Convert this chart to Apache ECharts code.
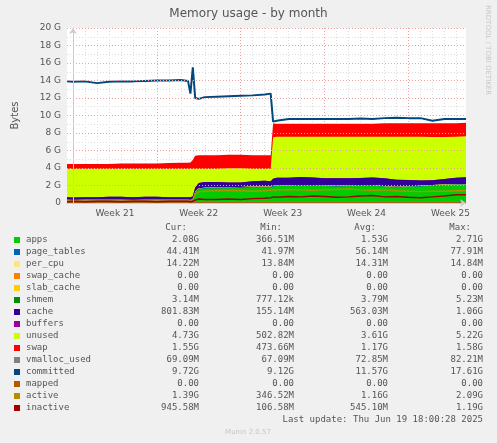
<!DOCTYPE html>
<html>
<head>
<meta charset="utf-8">
<script src="https://cdn.jsdelivr.net/npm/echarts@6/dist/echarts.min.js"></script>
<style>
  html, body { margin: 0; padding: 0; background: #f0f0f0; }
  #chart { width: 497px; height: 443px; }
</style>
</head>
<body>
<div id="chart"></div>
<script>
// time in days, GB values
const times = [-0.5, 0, 1, 2, 3, 4, 5, 6, 7, 8, 9, 9.6, 9.8, 10.0, 10.2, 10.5,
  11, 12, 13, 14, 15, 16, 16.5, 16.7,
  17, 18, 19, 20, 21, 22, 23, 24, 25, 26, 27, 28, 29, 30, 31, 32, 32.8];
const weekLabels = ['Week 21', 'Week 22', 'Week 23', 'Week 24', 'Week 25'];
const weekLabelDays = [3.5, 10.5, 17.5, 24.5, 31.5];
const yTicks = ['0', '2 G', '4 G', '6 G', '8 G', '10 G', '12 G', '14 G', '16 G', '18 G', '20 G'];

const apps = [0.25, 0.25, 0.25, 0.25, 0.25, 0.25, 0.25, 0.25, 0.25, 0.25, 0.25, 0.25, 0.25, 0.3, 1.2, 1.6,
  1.65, 1.7, 1.7, 1.75, 1.8, 1.8, 1.8, 1.9,
  1.95, 1.95, 2.0, 2.0, 1.95, 1.9, 1.95, 2.0, 2.0, 1.85, 1.8, 1.85, 1.9, 2.0, 2.05, 2.08, 2.08];
const pageTables = [0.05, 0.05, 0.05, 0.05, 0.05, 0.05, 0.05, 0.05, 0.05, 0.05, 0.05, 0.05, 0.05, 0.05, 0.06, 0.07,
  0.07, 0.07, 0.07, 0.07, 0.07, 0.07, 0.07, 0.06,
  0.06, 0.06, 0.05, 0.05, 0.05, 0.05, 0.05, 0.05, 0.05, 0.05, 0.05, 0.05, 0.05, 0.04, 0.04, 0.04, 0.04];
const perCpu = [0.014, 0.014, 0.014, 0.014, 0.014, 0.014, 0.014, 0.014, 0.014, 0.014, 0.014, 0.014, 0.014, 0.014, 0.014, 0.014,
  0.014, 0.014, 0.014, 0.014, 0.014, 0.014, 0.014, 0.014,
  0.014, 0.014, 0.014, 0.014, 0.014, 0.014, 0.014, 0.014, 0.014, 0.014, 0.014, 0.014, 0.014, 0.014, 0.014, 0.014, 0.014];
const zeros = [0, 0, 0, 0, 0, 0, 0, 0, 0, 0, 0, 0, 0, 0, 0, 0, 0, 0, 0, 0, 0, 0, 0, 0,
  0, 0, 0, 0, 0, 0, 0, 0, 0, 0, 0, 0, 0, 0, 0, 0, 0];
const shmem = [0.004, 0.004, 0.004, 0.004, 0.004, 0.004, 0.004, 0.004, 0.004, 0.004, 0.004, 0.004, 0.004, 0.004, 0.004, 0.004,
  0.004, 0.004, 0.004, 0.004, 0.004, 0.004, 0.004, 0.004,
  0.004, 0.004, 0.004, 0.004, 0.004, 0.004, 0.004, 0.004, 0.004, 0.004, 0.004, 0.004, 0.004, 0.003, 0.003, 0.003, 0.003];
const cache = [0.35, 0.3, 0.35, 0.35, 0.4, 0.4, 0.35, 0.4, 0.4, 0.35, 0.35, 0.35, 0.35, 0.4, 0.5, 0.6,
  0.65, 0.6, 0.55, 0.5, 0.6, 0.65, 0.6, 0.8,
  0.85, 0.85, 0.9, 0.85, 0.8, 0.85, 0.8, 0.8, 0.85, 0.9, 0.8, 0.7, 0.6, 0.55, 0.65, 0.75, 0.8];
const unused = [3.24, 3.29, 3.24, 3.24, 3.19, 3.19, 3.24, 3.19, 3.19, 3.24, 3.24, 3.24, 3.24, 3.14, 2.13, 1.63,
  1.52, 1.52, 1.62, 1.62, 1.43, 1.37, 1.43, 4.75,
  4.68, 4.68, 4.59, 4.64, 4.74, 4.74, 4.74, 4.69, 4.64, 4.74, 4.89, 4.94, 4.99, 4.95, 4.8, 4.68, 4.68];
const swap = [0.55, 0.55, 0.55, 0.55, 0.55, 0.6, 0.6, 0.6, 0.62, 0.65, 0.7, 0.7, 0.72, 1.0, 1.5, 1.55,
  1.55, 1.55, 1.55, 1.55, 1.55, 1.55, 1.55, 1.55,
  1.5, 1.5, 1.5, 1.5, 1.5, 1.5, 1.5, 1.5, 1.5, 1.55, 1.55, 1.55, 1.55, 1.55, 1.55, 1.55, 1.55];
const vmalloc = [0.07, 0.07, 0.07, 0.07, 0.07, 0.07, 0.07, 0.07, 0.07, 0.07, 0.07, 0.07, 0.07, 0.07, 0.07, 0.07,
  0.08, 0.08, 0.08, 0.08, 0.08, 0.08, 0.08, 0.07,
  0.07, 0.07, 0.07, 0.07, 0.07, 0.07, 0.07, 0.07, 0.07, 0.07, 0.07, 0.07, 0.07, 0.07, 0.07, 0.07, 0.07];
const committed = [13.9, 13.85, 13.9, 13.7, 13.85, 13.9, 13.9, 13.95, 14.0, 14.0, 14.05, 13.95, 12.5, 15.5, 12.0, 11.9,
  12.1, 12.15, 12.2, 12.25, 12.3, 12.4, 12.5, 9.3,
  9.4, 9.6, 9.6, 9.6, 9.6, 9.6, 9.6, 9.65, 9.6, 9.7, 9.75, 9.7, 9.7, 9.4, 9.6, 9.6, 9.6];
const active = [0.35, 0.3, 0.35, 0.35, 0.35, 0.35, 0.3, 0.35, 0.35, 0.35, 0.35, 0.35, 0.3, 0.4, 1.0, 1.3,
  1.35, 1.4, 1.45, 1.4, 1.35, 1.4, 1.45, 1.5,
  1.5, 1.55, 1.5, 1.45, 1.5, 1.55, 1.6, 1.5, 1.45, 1.5, 1.4, 1.35, 1.3, 1.35, 1.35, 1.4, 1.39];
const inactive = [0.15, 0.2, 0.15, 0.2, 0.2, 0.15, 0.2, 0.2, 0.15, 0.2, 0.2, 0.2, 0.15, 0.2, 0.35, 0.45,
  0.4, 0.4, 0.45, 0.4, 0.5, 0.55, 0.6, 0.7,
  0.65, 0.75, 0.7, 0.8, 0.75, 0.65, 0.7, 0.8, 0.85, 0.7, 0.75, 0.65, 0.6, 0.7, 0.8, 0.95, 0.95];

const legendNames = ['apps', 'page_tables', 'per_cpu', 'swap_cache', 'slab_cache', 'shmem', 'cache', 'buffers',
  'unused', 'swap', 'vmalloc_used', 'committed', 'mapped', 'active', 'inactive'];
const legendColors = ['#00cc00', '#0066b3', '#ffe680', '#ff8000', '#ffcc00', '#008f00', '#330099', '#990099',
  '#ccff00', '#ff0000', '#808080', '#00487d', '#b35a00', '#b38f00', '#a00000'];
const curVals = ['2.08G', '44.41M', '14.22M', '0.00', '0.00', '3.14M', '801.83M', '0.00', '4.73G', '1.55G', '69.09M', '9.72G', '0.00', '1.39G', '945.58M'];
const minVals = ['366.51M', '41.97M', '13.84M', '0.00', '0.00', '777.12k', '155.14M', '0.00', '502.82M', '473.66M', '67.09M', '9.12G', '0.00', '346.52M', '106.58M'];
const avgVals = ['1.53G', '56.14M', '14.31M', '0.00', '0.00', '3.79M', '563.03M', '0.00', '3.61G', '1.17G', '72.85M', '11.57G', '0.00', '1.16G', '545.10M'];
const maxVals = ['2.71G', '77.91M', '14.84M', '0.00', '0.00', '5.23M', '1.06G', '0.00', '5.22G', '1.58G', '82.21M', '17.61G', '0.00', '2.09G', '1.19G'];

const stackSeries = [apps, pageTables, perCpu, zeros, zeros, shmem, cache, zeros, unused, swap];
const lineSeries = [vmalloc, committed, zeros, active, inactive];

const mono = 'DejaVu Sans Mono';
const X_MIN = -0.5, X_MAX = 32.8;
const STEP = 0.1;
const slots = Array.from({ length: Math.round((X_MAX - X_MIN) / STEP) + 1 }, (_, i) => i);
const slotDay = (i) => X_MIN + i * STEP;
const isNear = (a, b) => Math.abs(a - b) < STEP / 2;

// cumulative tops for the stack, drawn top-down so each opaque area covers the one above from 0
const running = times.map(() => 0);
const tops = stackSeries.map((vals) => vals.map((v, j) => (running[j] += v)));

const series = [];
for (let i = stackSeries.length - 1; i >= 0; i--) {
  series.push({
    name: legendNames[i], type: 'line', symbol: 'none',
    lineStyle: { width: 0 }, areaStyle: { color: legendColors[i], opacity: 1 },
    itemStyle: { color: legendColors[i] },
    data: times.map((t, j) => [t, tops[i][j]]),
  });
}
lineSeries.forEach((vals, i) => {
  const idx = stackSeries.length + i;
  series.push({
    name: legendNames[idx], type: 'line', symbol: 'none',
    lineStyle: { width: legendNames[idx] === 'committed' ? 2 : 1.5, color: legendColors[idx] },
    data: times.map((t, j) => [t, vals[j]]),
  });
});

const graphic = [];
const rowY = 240, rowH = 12;
[['Cur:', 187], ['Min:', 282], ['Avg:', 376], ['Max:', 471]].forEach(([h, x]) => {
  graphic.push({ type: 'text', x, y: rowY - 12, style: { text: h, font: '9px ' + mono, fill: '#555', align: 'right', verticalAlign: 'middle' } });
});
legendNames.forEach((name, i) => {
  const y = rowY + i * rowH;
  graphic.push({ type: 'rect', shape: { x: 14, y: y - 3, width: 6, height: 6 }, style: { fill: legendColors[i] } });
  graphic.push({ type: 'text', x: 26, y, style: { text: name, font: '9px ' + mono, fill: '#555', verticalAlign: 'middle' } });
  [[curVals, 199], [minVals, 294], [avgVals, 388], [maxVals, 483]].forEach(([arr, x]) => {
    graphic.push({ type: 'text', x, y, style: { text: arr[i], font: '9px ' + mono, fill: '#555', align: 'right', verticalAlign: 'middle' } });
  });
});
graphic.push({ type: 'text', x: 483, y: 420, style: { text: 'Last update: Thu Jun 19 18:00:28 2025', font: '9px ' + mono, fill: '#555', align: 'right', verticalAlign: 'middle' } });
graphic.push({ type: 'text', x: 248, y: 432, style: { text: 'Munin 2.0.57', font: '7px DejaVu Sans', fill: '#c8c8c8', align: 'center', verticalAlign: 'middle' } });
graphic.push({ type: 'text', x: 488, y: 5, rotation: -Math.PI / 2, style: { text: 'RRDTOOL / TOBI OETIKER', font: '7px DejaVu Sans', fill: '#c8c8c8', verticalAlign: 'middle' } });

const gridAxis = (extra) => Object.assign({
  type: 'category', data: slots, boundaryGap: false, position: 'bottom',
  axisLine: { show: false }, axisTick: { show: false }, axisLabel: { show: false },
}, extra);

const chart = echarts.init(document.getElementById('chart'));
chart.setOption({
  backgroundColor: '#f0f0f0',
  animation: false,
  title: {
    text: 'Memory usage - by month', left: 'center', top: 3,
    textStyle: { fontFamily: 'DejaVu Sans', fontSize: 12, fontWeight: 'normal', color: '#555' },
  },
  grid: { left: 67, right: 31, top: 28, bottom: 240, backgroundColor: '#fff', show: true, borderWidth: 0 },
  xAxis: [
    { // data axis
      type: 'value', min: X_MIN, max: X_MAX, z: 10,
      axisLine: { show: true, lineStyle: { color: '#ccc' }, symbol: ['none', 'arrow'], symbolSize: [6, 6] },
      axisTick: { show: false }, axisLabel: { show: false }, splitLine: { show: false },
    },
    gridAxis({ // daily minor lines
      splitLine: { show: true, interval: (i) => isNear((slotDay(i) % 1 + 1) % 1, 0) && i > 0, lineStyle: { color: '#ddd', type: [1, 2] } },
    }),
    gridAxis({ // weekly major lines
      splitLine: { show: true, interval: (i) => isNear(((slotDay(i) % 7) + 7) % 7, 0), lineStyle: { color: '#f0a0a0', type: [1, 2] } },
    }),
    gridAxis({ // week labels
      axisLabel: {
        show: true, margin: 6, fontFamily: 'DejaVu Sans', fontSize: 9, color: '#555',
        interval: (i) => weekLabelDays.some((d) => isNear(d, slotDay(i))),
        formatter: (v, i) => {
          const k = weekLabelDays.findIndex((d) => isNear(d, slotDay(i)));
          return k >= 0 ? weekLabels[k] : '';
        },
      },
    }),
  ],
  yAxis: [
    {
      type: 'value', min: 0, max: 20, interval: 2, z: 10,
      name: 'Bytes', nameLocation: 'middle', nameGap: 47, nameRotate: 90,
      nameTextStyle: { fontFamily: 'DejaVu Sans', fontSize: 10, color: '#555' },
      axisLine: { show: true, lineStyle: { color: '#ccc' }, symbol: ['none', 'arrow'], symbolSize: [6, 6] },
      axisTick: { show: false },
      axisLabel: { fontFamily: 'DejaVu Sans', fontSize: 9, color: '#555', margin: 6, formatter: (v) => yTicks[v / 2] },
      splitLine: { show: true, lineStyle: { color: '#f0a0a0', type: [1, 2] } },
    },
    {
      type: 'value', min: 0, max: 20, interval: 1,
      axisLine: { show: false }, axisTick: { show: false }, axisLabel: { show: false },
      splitLine: { show: true, lineStyle: { color: '#ddd', type: [1, 2] } },
    },
  ],
  series,
  graphic,
});
</script>
</body>
</html>
